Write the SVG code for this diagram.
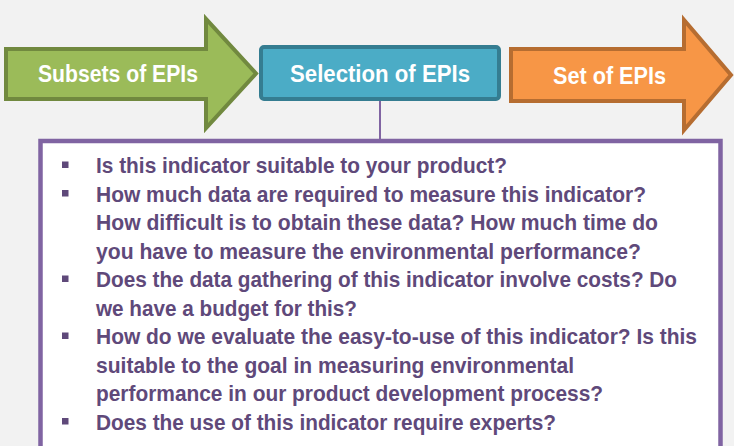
<svg xmlns="http://www.w3.org/2000/svg" width="734" height="446" viewBox="0 0 734 446">
<style>
.hdr{font-family:"Liberation Sans",Arial,sans-serif;font-weight:bold;font-size:23.5px;fill:#ffffff;text-anchor:middle}
.q{font-family:"Liberation Sans",Arial,sans-serif;font-weight:bold;font-size:22px;fill:#5f497a}
.b{fill:#5f497a}
</style>
<rect width="734" height="446" fill="#f2f2f2"/>
<g id="connectors">
<line x1="380" y1="101" x2="380" y2="141" stroke="#8064a2" stroke-width="2"/>
</g>
<g id="subsets">
<polygon points="6,49 206,49 206,19 256,73.5 206,128 206,99 6,99" fill="#9bbb59" stroke="#71893f" stroke-width="4" stroke-linejoin="miter"/>
<text class="hdr" x="118" y="82" textLength="160" lengthAdjust="spacingAndGlyphs">Subsets of EPIs</text>
</g>
<g id="selection">
<rect x="261" y="47" width="238" height="52" rx="3" fill="#4bacc6" stroke="#357d91" stroke-width="4"/>
<text class="hdr" x="380" y="82" textLength="180" lengthAdjust="spacingAndGlyphs">Selection of EPIs</text>
</g>
<g id="set">
<polygon points="511,49 684,49 684,20 731,75 684,130 684,101 511,101" fill="#f79646" stroke="#b66d31" stroke-width="4" stroke-linejoin="miter"/>
<text class="hdr" x="609.5" y="84" textLength="113" lengthAdjust="spacingAndGlyphs">Set of EPIs</text>
</g>
<g id="questions">
<rect x="40.5" y="141" width="680" height="320" fill="#ffffff" stroke="#8064a2" stroke-width="4.5"/>
<rect class="b" x="62" y="161.5" width="6.5" height="6.5"/>
<rect class="b" x="62" y="190" width="6.5" height="6.5"/>
<rect class="b" x="62" y="275.5" width="6.5" height="6.5"/>
<rect class="b" x="62" y="332.5" width="6.5" height="6.5"/>
<rect class="b" x="62" y="418" width="6.5" height="6.5"/>
<text class="q" x="96" y="173" textLength="411" lengthAdjust="spacingAndGlyphs">Is this indicator suitable to your product?</text>
<text class="q" x="96" y="201.5" textLength="550" lengthAdjust="spacingAndGlyphs">How much data are required to measure this indicator?</text>
<text class="q" x="96" y="230" textLength="562" lengthAdjust="spacingAndGlyphs">How difficult is to obtain these data? How much time do</text>
<text class="q" x="96" y="258.5" textLength="545" lengthAdjust="spacingAndGlyphs">you have to measure the environmental performance?</text>
<text class="q" x="96" y="287" textLength="581" lengthAdjust="spacingAndGlyphs">Does the data gathering of this indicator involve costs? Do</text>
<text class="q" x="96" y="315.5" textLength="261" lengthAdjust="spacingAndGlyphs">we have a budget for this?</text>
<text class="q" x="96" y="344" textLength="601" lengthAdjust="spacingAndGlyphs">How do we evaluate the easy-to-use of this indicator? Is this</text>
<text class="q" x="96" y="372.5" textLength="478" lengthAdjust="spacingAndGlyphs">suitable to the goal in measuring environmental</text>
<text class="q" x="96" y="401" textLength="507" lengthAdjust="spacingAndGlyphs">performance in our product development process?</text>
<text class="q" x="96" y="429.5" textLength="460" lengthAdjust="spacingAndGlyphs">Does the use of this indicator require experts?</text>
</g>
</svg>
